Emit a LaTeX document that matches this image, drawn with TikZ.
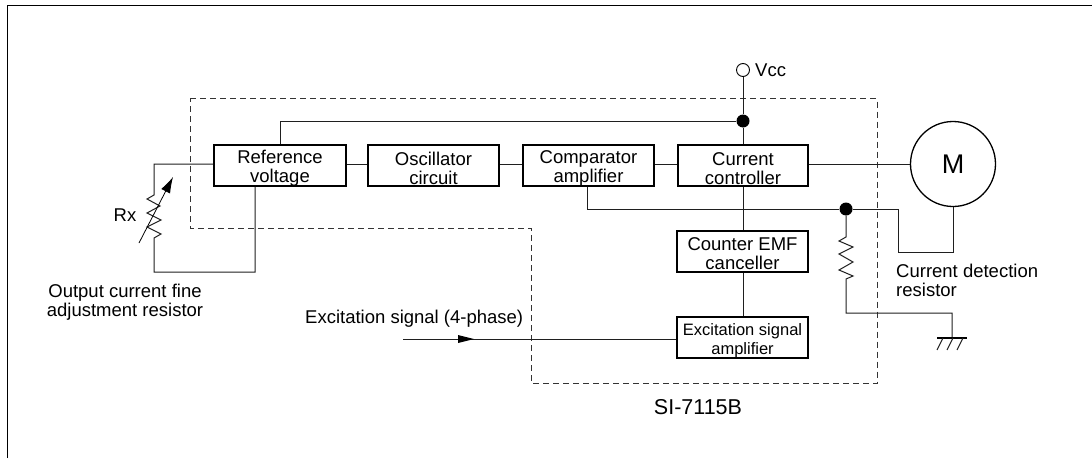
\documentclass[tikz,border=0pt]{standalone}
\usepackage{fontspec}
\setmainfont{Liberation Sans}
\usetikzlibrary{arrows.meta}
\newcommand{\topgap}{\rule{0pt}{18.5pt}}
\tikzset{
  x=1pt,y=-1pt,
  wire/.style={line width=1pt,draw=black!88,line join=miter},
  block/.style={draw=black,line width=2pt,inner sep=0pt,align=center,font=\fontsize{18.5}{19}\selectfont,minimum height=41pt},
  lbl/.style={inner sep=0pt,align=left,font=\fontsize{18.5}{19}\selectfont},
  dot/.style={circle,fill=black,inner sep=0pt,minimum size=13pt},
  dashline/.style={line width=0.9pt,draw=black!80,dash pattern=on 6pt off 4pt},
}
\begin{document}
\begin{tikzpicture}
\useasboundingbox (0,0) rectangle (1092,458);
\fill[white] (0,0) rectangle (1092,458);
\draw[line width=1pt] (7,458) -- (7,5) -- (1092,5);
\draw[dashline] (190,98.5) -- (877,98.5) -- (877,383) -- (531,383) -- (531,228) -- (190,228) -- cycle;
\node[block,minimum width=132pt] (ref) at (280,165.5) {\topgap Reference\\voltage};
\node[block,minimum width=131pt] (osc) at (433.5,165.5) {\topgap Oscillator\\circuit};
\node[block,minimum width=131pt] (cmp) at (588.5,165.5) {\topgap Comparator\\amplifier};
\node[block,minimum width=130pt] (cur) at (743,165.5) {\topgap Current\\controller};
\node[block,minimum width=131pt] (emf) at (742.5,251) {\topgap Counter EMF\\canceller};
\node[block,minimum width=131pt,font=\fontsize{16.5}{19}\selectfont] (exc) at (742.5,337.5) {\topgap Excitation signal\\amplifier};
\node[circle,draw=black,line width=1.3pt,inner sep=0pt,minimum size=85pt,font=\fontsize{27}{30}\selectfont] (m) at (953,164) {M};
\node[circle,draw=black,line width=0.9pt,inner sep=0pt,minimum size=13pt] (vcc) at (743,70) {};
\node[lbl,anchor=west] (vcctext) at (755,70.5) {Vcc};
\node[dot] (d1) at (743,121) {};
\node[dot] (d2) at (846,209) {};
\coordinate (t1) at (280.5,121);
\coordinate (w) at (0,164);
\draw[wire] (vcc) -- (d1);
\draw[wire] (d1) -- (d1 |- cur.north);
\draw[wire] (d1) -- (t1) -- (ref.north -| t1);
\draw[wire] (ref.east |- w) -- (osc.west |- w);
\draw[wire] (osc.east |- w) -- (cmp.west |- w);
\draw[wire] (cmp.east |- w) -- (cur.west |- w);
\draw[wire] (cur.east |- w) -- (m.west);
\draw[wire] (cur.south) -- (cur.south |- emf.north);
\draw[wire] (emf.south -| cur.south) -- (cur.south |- exc.north);
% feedback
\coordinate (f1) at (587,209);
\coordinate (f2) at (898,209);
\coordinate (f3) at (898,252);
\coordinate (f4) at (953,252);
\draw[wire] (cmp.south -| f1) -- (f1) -- (d2) -- (f2) -- (f3) -- (f4) -- (m.south);
% sense resistor
\coordinate (g1) at (846,313);
\coordinate (g2) at (952,313);
\coordinate (g3) at (952,338);
\draw[wire] (d2) -- (846,237) -- (839,241) -- (853,247) -- (839,254) -- (853,262) -- (839,270) -- (853,276) -- (846,279) -- (g1) -- (g2) -- (g3);
\draw[line width=1.5pt] (937,338) -- (967,338);
\draw[wire] (943,338) -- (937,350);
\draw[wire] (953,338) -- (947,350);
\draw[wire] (963,338) -- (957,350);
% Rx
\coordinate (r1) at (154,164);
\coordinate (r2) at (154,272);
\coordinate (r3) at (255,272);
\draw[wire] (ref.west |- w) -- (r1) -- (154,195) -- (147,199) -- (160,206) -- (147,213) -- (161,220) -- (147,227) -- (161,234) -- (154,238) -- (r2) -- (r3) -- (ref.south -| r3);
\draw[line width=0.8pt,-{Latex[length=16pt,width=10pt]}] (139,243) -- (173,177);
% excitation
\coordinate (e0) at (403,339);
\coordinate (e1) at (474,339);
\draw[wire] (e0) -- (exc.west |- e0);
\fill (458,335) -- (e1) -- (458,343) -- cycle;
% labels
\node[lbl] (rx) at (125,215) {Rx};
\node[lbl,align=center] (oc) at (125,302.5) {Output current fine\\adjustment resistor};
\node[lbl,anchor=west] (cd) at (896,280.5) {Current detection\\resistor};
\node[lbl,anchor=west] (ex) at (305,319) {Excitation signal (4-phase)};
\node[lbl,font=\fontsize{21.5}{23}\selectfont] (si) at (698,407) {SI-7115B};
\end{tikzpicture}
\end{document}
